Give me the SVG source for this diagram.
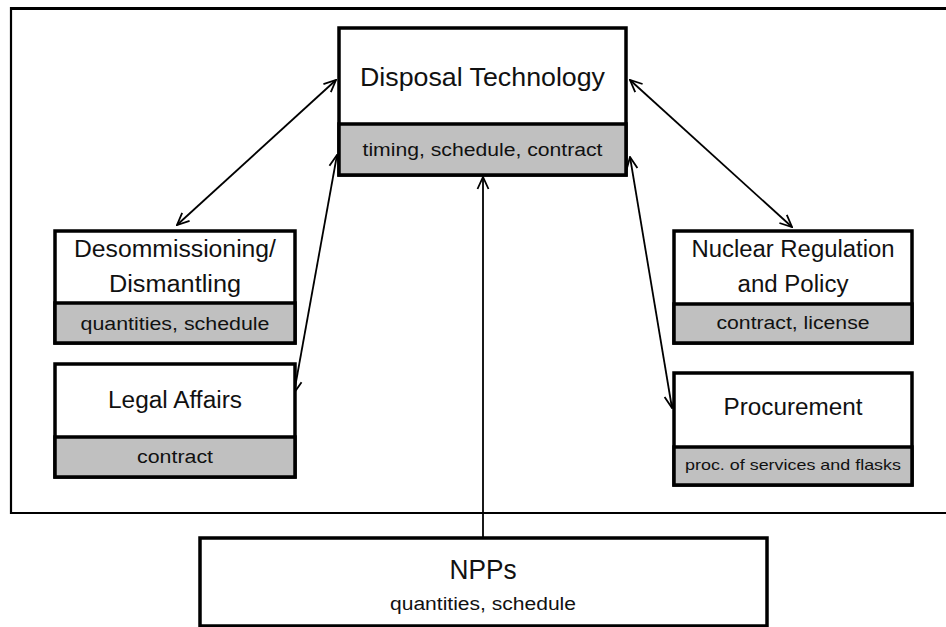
<svg xmlns="http://www.w3.org/2000/svg" width="946" height="627" viewBox="0 0 946 627">
<defs>
<style>
.box{fill:#fff;stroke:#000;stroke-width:3.5}
.sub{fill:#c0c0c0;stroke:#000;stroke-width:3.5}
.t{font-family:"Liberation Sans",Arial,sans-serif;fill:#111;text-anchor:middle}
.h{font-size:23px}
.s{font-size:18px}
.c{stroke:#000;stroke-width:1.8;fill:none}
</style>
<marker id="ah" viewBox="0 0 14 14" refX="13" refY="7" markerWidth="14" markerHeight="14" markerUnits="userSpaceOnUse" orient="auto-start-reverse">
<path d="M1,1.5 L13,7 L1,12.5" fill="none" stroke="#000" stroke-width="1.8"/>
</marker>
</defs>
<rect width="946" height="627" fill="#fff"/>
<g id="frame" fill="none" stroke="#000">
<line x1="10" y1="8.5" x2="950" y2="8.5" stroke-width="3"/>
<line x1="11" y1="7" x2="11" y2="514" stroke-width="2.2"/>
<line x1="10" y1="513" x2="950" y2="513" stroke-width="1.8"/>
</g>
<g id="connectors">
<line class="c" x1="336" y1="80" x2="177" y2="225" marker-start="url(#ah)" marker-end="url(#ah)"/>
<line class="c" x1="337" y1="155" x2="294" y2="393" marker-start="url(#ah)" marker-end="url(#ah)"/>
<line class="c" x1="630" y1="80" x2="792" y2="227" marker-start="url(#ah)" marker-end="url(#ah)"/>
<line class="c" x1="630" y1="157" x2="672" y2="408" marker-start="url(#ah)" marker-end="url(#ah)"/>
<line class="c" x1="483" y1="538" x2="483" y2="177" marker-end="url(#ah)"/>
</g>
<g id="disposal">
<rect class="box" x="339" y="28" width="287" height="147"/>
<rect class="sub" x="339" y="124" width="287" height="51"/>
<text class="t" x="482.5" y="86" font-size="26" textLength="245" lengthAdjust="spacingAndGlyphs">Disposal Technology</text>
<text class="t s" x="482.5" y="156" textLength="240" lengthAdjust="spacingAndGlyphs">timing, schedule, contract</text>
</g>
<g id="decommissioning">
<rect class="box" x="55" y="231" width="240" height="112"/>
<rect class="sub" x="55" y="303" width="240" height="40"/>
<text class="t h" x="175" y="257" textLength="202" lengthAdjust="spacingAndGlyphs">Desommissioning/</text>
<text class="t h" x="175" y="292" textLength="132" lengthAdjust="spacingAndGlyphs">Dismantling</text>
<text class="t s" x="175" y="330" textLength="189" lengthAdjust="spacingAndGlyphs">quantities, schedule</text>
</g>
<g id="legal">
<rect class="box" x="55" y="364" width="240" height="113"/>
<rect class="sub" x="55" y="437" width="240" height="40"/>
<text class="t h" x="175" y="408" textLength="134" lengthAdjust="spacingAndGlyphs">Legal Affairs</text>
<text class="t s" x="175" y="463" textLength="76" lengthAdjust="spacingAndGlyphs">contract</text>
</g>
<g id="regulation">
<rect class="box" x="674" y="231" width="238" height="112"/>
<rect class="sub" x="674" y="304" width="238" height="39"/>
<text class="t h" x="793" y="257" textLength="203" lengthAdjust="spacingAndGlyphs">Nuclear Regulation</text>
<text class="t h" x="793" y="292" textLength="111" lengthAdjust="spacingAndGlyphs">and Policy</text>
<text class="t s" x="793" y="329" textLength="153" lengthAdjust="spacingAndGlyphs">contract, license</text>
</g>
<g id="procurement">
<rect class="box" x="674" y="373" width="238" height="112"/>
<rect class="sub" x="674" y="447" width="238" height="38"/>
<text class="t h" x="793" y="415" textLength="139" lengthAdjust="spacingAndGlyphs">Procurement</text>
<text class="t" x="793" y="470" font-size="15" textLength="216" lengthAdjust="spacingAndGlyphs">proc. of services and flasks</text>
</g>
<g id="npps">
<rect class="box" x="200" y="538" width="567" height="88"/>
<text class="t" x="483" y="579" font-size="27" textLength="67" lengthAdjust="spacingAndGlyphs">NPPs</text>
<text class="t s" x="483" y="610" textLength="186" lengthAdjust="spacingAndGlyphs">quantities, schedule</text>
</g>
</svg>
